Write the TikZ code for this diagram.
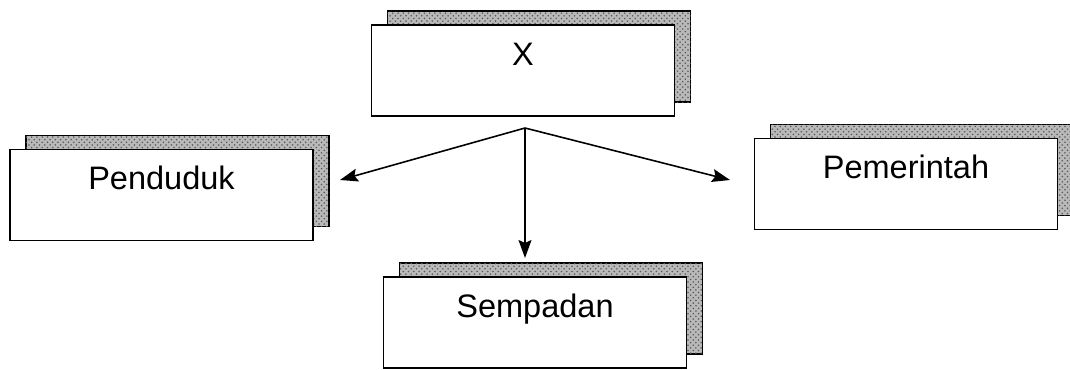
\documentclass[tikz,border=0pt]{standalone}
\usepackage{fontspec}
\setmainfont{Liberation Sans}
\usetikzlibrary{patterns,arrows.meta}
\begin{document}
\begin{tikzpicture}
		[boxDecorate/.style={shape=rectangle,draw,line width=1pt,fill=white,minimum width=6.06cm,
				inner xsep=0pt,inner ysep=0pt,text height=0.8cm,text depth=1.02cm,font=\fontsize{18.5}{20}\selectfont},
			shadeDecorate/.style={draw,line width=0.8pt,fill=gray!55,postaction={pattern=crosshatch dots,pattern color=gray!70!black}},
			arrowDecorate/.style={-{Stealth[length=0.36cm,width=0.26cm,inset=0.06cm]},line width=0.9pt}]
		\useasboundingbox (0,0) rectangle (21.4,-7.38);
		\foreach \nodename/\x/\y/\caption in {
				x/10.46/-1.41/X, penduduk/3.23/-3.9/Penduduk, pemerintah/18.12/-3.68/Pemerintah, sempadan/10.7/-6.45/Sempadan}
			{
				\draw[shadeDecorate] (\x-2.71,\y-0.63) rectangle ++(6.06,1.82);
				\node (\nodename) at (\x,\y) [boxDecorate] {\caption};
			}
		\coordinate (fork) at (10.5,-2.56);
		\coordinate (toPenduduk) at (6.8,-3.6);
		\coordinate (toPemerintah) at (14.6,-3.6);
		\coordinate (toSempadan) at (10.5,-5.16);
		\path
		\foreach \endnode in {toPenduduk, toPemerintah, toSempadan}
			{
				(fork) edge[arrowDecorate] (\endnode)
			};
	\end{tikzpicture}
\end{document}
